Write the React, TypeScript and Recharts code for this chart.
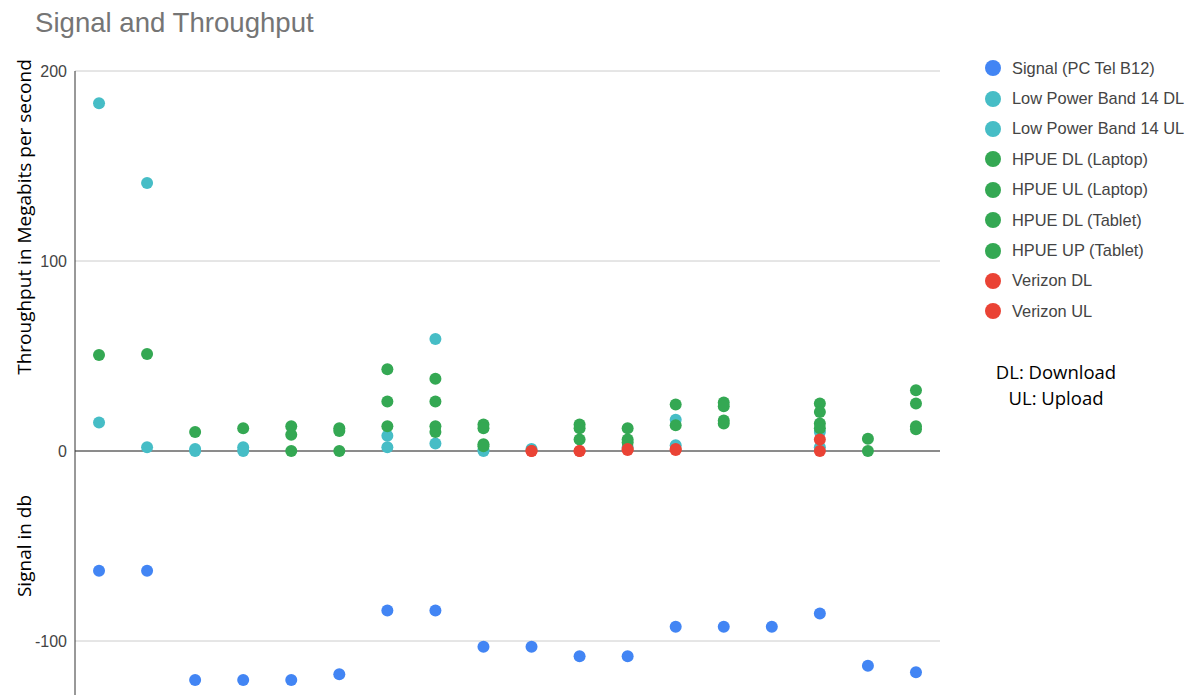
import React from 'react';
import { ScatterChart, Scatter, XAxis, YAxis, CartesianGrid, ReferenceLine, Legend } from 'recharts';

// test sites, left to right
const sites = [0, 1, 2, 3, 4, 5, 6, 7, 8, 9, 10, 11, 12, 13, 14, 15, 16, 17];
const yTicks = [-100, 0, 100, 200];

const signal = [-63, -63, -120.5, -120.5, -120.5, -117.5, -84, -84, -103, -103, -108, -108, -92.5, -92.5, -92.5, -85.5, -113, -116.5];
const lowPowerDL = [183, 141, 1, 2, null, null, 8, 59, 0.5, 1, null, 2, 16.5, null, null, 10, null, null];
const lowPowerUL = [15, 2, 0, 0, null, null, 2, 4, 0, null, null, null, 3, null, null, 2, null, null];
const hpueDLLaptop = [50.5, 51, 10, 12, 13, 12, 43, 38, 14, null, 14, 12, 24.5, 25.5, null, 25, 6.5, 32];
const hpueULLaptop = [null, null, null, null, 8.5, 10.5, 26, 26, 12, null, 12, 6, 13.5, 23.5, null, 20.5, 0, 25];
const hpueDLTablet = [null, null, null, null, 0, 0, 13, 13, 3.5, null, 6, 4.5, null, 16, null, 14.5, null, 13];
const hpueUPTablet = [null, null, null, null, null, null, null, 10, 2.5, null, null, null, null, 14.5, null, 12, null, 11.5];
const verizonDL = [null, null, null, null, null, null, null, null, null, 0, 0, 1, 1, null, null, 6, null, null];
const verizonUL = [null, null, null, null, null, null, null, null, null, 0, 0, 0.5, 0.5, null, null, 0, null, null];

const BLUE = '#4285f4';
const TEAL = '#46bdc6';
const GREEN = '#34a853';
const RED = '#ea4335';

const series = [
  { name: 'Signal (PC Tel B12)', values: signal, color: BLUE },
  { name: 'Low Power Band 14 DL', values: lowPowerDL, color: TEAL },
  { name: 'Low Power Band 14 UL', values: lowPowerUL, color: TEAL },
  { name: 'HPUE DL (Laptop)', values: hpueDLLaptop, color: GREEN },
  { name: 'HPUE UL (Laptop)', values: hpueULLaptop, color: GREEN },
  { name: 'HPUE DL (Tablet)', values: hpueDLTablet, color: GREEN },
  { name: 'HPUE UP (Tablet)', values: hpueUPTablet, color: GREEN },
  { name: 'Verizon DL', values: verizonDL, color: RED },
  { name: 'Verizon UL', values: verizonUL, color: RED },
];
const seriesOrder = series.map((s) => s.name);

const toPoints = (values: (number | null)[]) =>
  sites
    .map((s, i) => ({ site: s, value: values[i] }))
    .filter((p) => p.value !== null);

const FONT = "'Liberation Sans', Arial, sans-serif";
const LABEL_FONT = "'Open Sans', sans-serif";

const LegendList = (props: any) => {
  // keep the series order, the legend sorts by name otherwise
  const items = [...(props.payload || [])].sort(
    (a: any, b: any) => seriesOrder.indexOf(a.value) - seriesOrder.indexOf(b.value)
  );
  return (
    <div>
      {items.map((entry: any) => (
        <div key={entry.value} style={{ display: 'flex', alignItems: 'center', height: 30.4 }}>
          <span
            style={{
              display: 'inline-block',
              width: 16,
              height: 16,
              borderRadius: 8,
              background: entry.color,
              marginRight: 11,
            }}
          />
          <span style={{ fontSize: 16.4, color: '#444', fontFamily: FONT, whiteSpace: 'nowrap' }}>{entry.value}</span>
        </div>
      ))}
    </div>
  );
};

export default function App() {
  return (
    <div
      style={{
        position: 'fixed',
        left: 0,
        top: 0,
        width: 1191,
        height: 695,
        overflow: 'hidden',
        background: '#fff',
        fontFamily: FONT,
      }}
    >
      <div
        style={{
          position: 'absolute',
          left: 35,
          top: 7,
          fontSize: 27.6,
          color: '#757575',
          whiteSpace: 'nowrap',
        }}
      >
        Signal and Throughput
      </div>

      <div style={{ position: 'absolute', left: 0, top: 0 }}>
        <ScatterChart width={1191} height={900} margin={{ top: 71, right: 251, bottom: 69, left: 0 }}>
          <CartesianGrid vertical={false} stroke="#cccccc" />
          <XAxis type="number" dataKey="site" domain={[-0.5, 17.5]} hide />
          <YAxis
            type="number"
            dataKey="value"
            domain={[-200, 200]}
            ticks={yTicks}
            width={75}
            tickLine={false}
            axisLine={{ stroke: '#333' }}
            tick={{ fontSize: 16, fill: '#444', fontFamily: FONT }}
          />
          <ReferenceLine y={0} stroke="#333" />
          {series.map((s) => (
            <Scatter
              key={s.name}
              name={s.name}
              data={toPoints(s.values)}
              fill={s.color}
              isAnimationActive={false}
              shape={(p: any) => <circle cx={p.cx} cy={p.cy} r={6} fill={s.color} />}
            />
          ))}
          <Legend
            layout="vertical"
            align="center"
            verticalAlign="middle"
            content={<LegendList />}
            wrapperStyle={{ position: 'absolute', left: 985, top: 53, width: 200 }}
          />
        </ScatterChart>
      </div>

      <svg style={{ position: 'absolute', left: 0, top: 0 }} width={60} height={695}>
        <text
          x={31}
          y={217}
          transform="rotate(-90, 31, 217)"
          textAnchor="middle"
          fontFamily={LABEL_FONT}
          fontSize={19}
          fill="#000"
        >
          Throughput in Megabits per second
        </text>
        <text
          x={31}
          y={546}
          transform="rotate(-90, 31, 546)"
          textAnchor="middle"
          fontFamily={LABEL_FONT}
          fontSize={19}
          fill="#000"
        >
          Signal in db
        </text>
      </svg>

      <div
        style={{
          position: 'absolute',
          left: 956,
          top: 359,
          width: 200,
          textAlign: 'center',
          fontFamily: LABEL_FONT,
          fontSize: 18.5,
          lineHeight: '26px',
          color: '#000',
        }}
      >
        <div>DL: Download</div>
        <div>UL: Upload</div>
      </div>
    </div>
  );
}
